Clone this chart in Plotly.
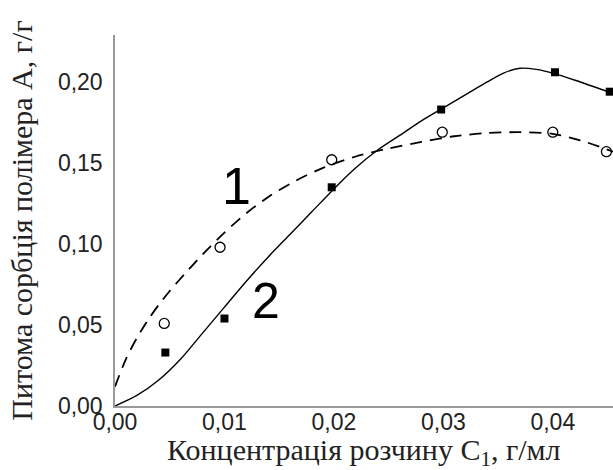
import plotly.graph_objects as go

# curve 1 (dashed) traced points
c1_x = [0, 0.001, 0.002, 0.003, 0.004, 0.005, 0.0065, 0.008, 0.010, 0.012, 0.014, 0.0165, 0.019, 0.022, 0.025, 0.028, 0.031, 0.034, 0.037, 0.040, 0.0425, 0.0455]
c1_y = [0.012, 0.029, 0.042, 0.053, 0.0625, 0.071, 0.0825, 0.0935, 0.107, 0.119, 0.129, 0.139, 0.147, 0.154, 0.159, 0.163, 0.1665, 0.1685, 0.169, 0.168, 0.164, 0.157]
# curve 2 (solid) traced points
c2_x = [0, 0.002, 0.004, 0.006, 0.008, 0.010, 0.012, 0.014, 0.016, 0.018, 0.020, 0.022, 0.024, 0.026, 0.028, 0.030, 0.032, 0.034, 0.0355, 0.037, 0.0385, 0.040, 0.0425, 0.0455]
c2_y = [0, 0.0065, 0.016, 0.029, 0.045, 0.061, 0.077, 0.092, 0.106, 0.120, 0.134, 0.147, 0.158, 0.167, 0.176, 0.184, 0.192, 0.200, 0.2055, 0.2085, 0.2078, 0.2055, 0.200, 0.193]
# measured points
p1_x = [0.0045, 0.0096, 0.0198, 0.0299, 0.0400, 0.0449]
p1_y = [0.051, 0.098, 0.152, 0.169, 0.169, 0.157]
p2_x = [0.0046, 0.0100, 0.0198, 0.0298, 0.0402, 0.0452]
p2_y = [0.033, 0.054, 0.135, 0.183, 0.206, 0.194]

fig = go.Figure()
fig.add_trace(go.Scatter(x=c1_x, y=c1_y, mode="lines", line=dict(color="black", width=1.8, dash="12px,8px", shape="spline", smoothing=0.8), showlegend=False, cliponaxis=False))
fig.add_trace(go.Scatter(x=c2_x, y=c2_y, mode="lines", line=dict(color="black", width=1.4, shape="spline", smoothing=0.8), showlegend=False, cliponaxis=False))
fig.add_trace(go.Scatter(x=p1_x, y=p1_y, mode="markers", marker=dict(symbol="circle-open", size=10, color="black", line=dict(width=1.3)), showlegend=False, cliponaxis=False))
fig.add_trace(go.Scatter(x=p2_x, y=p2_y, mode="markers", marker=dict(symbol="square", size=8, color="black"), showlegend=False, cliponaxis=False))

fig.add_annotation(x=0.0111, y=0.136, text="1", showarrow=False, font=dict(family="Liberation Sans", size=52, color="black"))
fig.add_annotation(x=0.0138, y=0.065, text="2", showarrow=False, font=dict(family="Liberation Sans", size=50, color="black"))

tickfont = dict(family="Liberation Sans", size=23, color="#222")
titlefont = dict(family="Liberation Serif", size=30, color="#222")
# x axis title as annotation so it can sit as low as in the reference
fig.add_annotation(xref="paper", yref="paper", x=0.5, y=-0.125, xanchor="center", yanchor="middle",
                   text="Концентрація розчину C<sub>1</sub>, г/мл", showarrow=False, font=titlefont)
fig.update_layout(
    width=613, height=470,
    margin=dict(l=115, r=0, t=35, b=64, autoexpand=False),
    plot_bgcolor="white", paper_bgcolor="white",
    separators=", ",
    xaxis=dict(range=[0, 0.0455], tickvals=[0, 0.01, 0.02, 0.03, 0.04], tickformat=".2f",
               showgrid=False, zeroline=False, showline=True, linecolor="#999", linewidth=1.5,
               ticks="", tickfont=tickfont, automargin=False, ticklabelstandoff=-5),
    yaxis=dict(range=[0, 0.229], tickvals=[0, 0.05, 0.10, 0.15, 0.20], tickformat=".2f",
               showgrid=False, zeroline=False, showline=True, linecolor="#999", linewidth=1.5,
               ticks="", tickfont=tickfont, automargin=False, ticklabelstandoff=6,
               title=dict(text="Питома сорбція полімера А, г/г", font=titlefont, standoff=16)),
)
fig.write_html("out.html", config={"displayModeBar": False},
               post_script="document.body.style.margin='0';document.body.style.overflow='hidden';")
